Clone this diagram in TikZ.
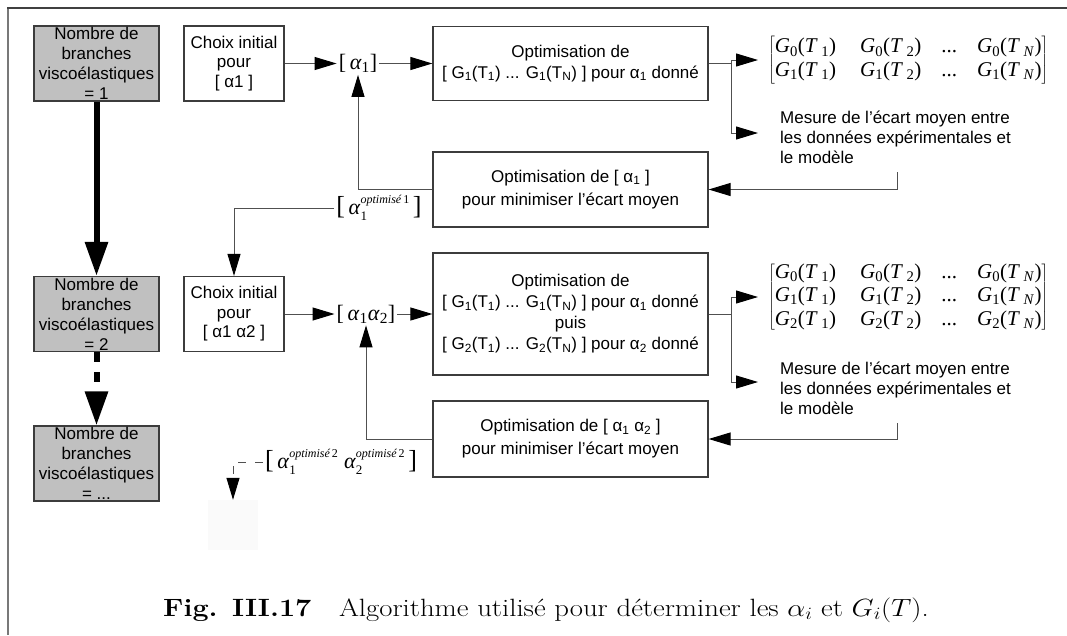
\documentclass[tikz,border=0pt]{standalone}
\usepackage{graphicx}
\usepackage{fontspec}
\setsansfont{Liberation Sans}
\newfontfamily\timesfont{Liberation Serif}
\usepackage{tikz}
\usetikzlibrary{positioning, arrows.meta}

\definecolor{boxgray}{RGB}{192,192,192}
\definecolor{edgegray}{RGB}{60,60,60}
\definecolor{linegray}{RGB}{80,80,80}
\definecolor{framegray}{RGB}{120,120,120}

\newcommand{\GT}[2]{\textit{G}\textsubscript{#1}(\textit{T}\,\textsubscript{#2})}
\newcommand{\al}[1]{α\textsubscript{#1}}
\newcommand{\aopt}[2]{\textit{α}\rlap{\raisebox{-6pt}{\fontsize{13}{13}\selectfont #1}}\raisebox{11pt}{\fontsize{12}{12}\selectfont\itshape optimisé\,\upshape #2}}
\newcommand{\bigbr}[1]{{\fontsize{26}{26}\selectfont #1}}

\begin{document}
\begin{tikzpicture}[x=1pt, y=-1pt]
    % Define styles
    \tikzstyle{branchbox} = [rectangle, minimum width=125pt, minimum height=75pt, inner xsep=0pt, inner ysep=-2pt, align=center, draw=edgegray, line width=1.2pt, fill=boxgray, font=\sffamily\fontsize{17}{20}\selectfont]
    \tikzstyle{choixbox} = [rectangle, minimum width=100pt, minimum height=75pt, inner sep=0pt, align=center, draw=edgegray, line width=1.2pt, fill=white, font=\sffamily\fontsize{17}{19.5}\selectfont]
    \tikzstyle{optbox} = [rectangle, minimum width=275pt, minimum height=74pt, inner sep=0pt, align=center, draw=edgegray, line width=1.2pt, fill=white, font=\sffamily\fontsize{17}{21}\selectfont]
    \tikzstyle{vect} = [inner sep=2pt, font=\timesfont\fontsize{22}{24}\selectfont]
    \tikzstyle{matrice} = [anchor=west, inner sep=0pt, font=\timesfont\fontsize{21}{23.5}\selectfont]
    \tikzstyle{note} = [anchor=west, inner sep=2pt, align=left, font=\sffamily\fontsize{17}{20}\selectfont]
    \tikzstyle{line} = [line width=1pt, draw=linegray]
    \tikzstyle{arrow} = [line, -{Triangle[length=22pt, width=13pt, color=black]}]
    \tikzstyle{dasharrow} = [arrow, dash pattern=on 8pt off 9pt]
    \tikzstyle{bigarrow} = [line width=6pt, -{Triangle[length=34pt, width=22pt]}]
    \tikzstyle{bigdash} = [bigarrow, dash pattern=on 10pt off 10pt]

    \useasboundingbox (0,0) rectangle (1067,635);

    % Frame
    \draw [line width=2pt, draw=framegray] (8,8) -- (8,635);
    \draw [line width=1.5pt, draw=black!75] (7,8) -- (1067,8);

    % Nodes
    \node (nb1) [branchbox] at (96.5,63.5) {Nombre de\\branches\\viscoélastiques\\= 1};
    \node (nb2) [branchbox, below of=nb1, node distance=250.5pt] {Nombre de\\branches\\viscoélastiques\\= 2};
    \node (nb3) [branchbox, below of=nb2, node distance=149.5pt] {Nombre de\\branches\\viscoélastiques\\= ...};

    \node (choix1) [choixbox, right of=nb1, node distance=137.5pt] {Choix initial\\pour\\{[} α1 ]};
    \node (choix2) [choixbox, right of=nb2, node distance=137.5pt] {Choix initial\\pour\\{[} α1 α2 ]};

    \node (a1) [vect] at (358,63.5) {[\,\textit{α}\textsubscript{1}]};
    \node (a12) [vect] at (366,314) {[\,\textit{α}\textsubscript{1}\textit{α}\textsubscript{2}]};

    \node (opt1) [optbox] at (570.5,63.5) {Optimisation de\\{[} G\textsubscript{1}(T\textsubscript{1}) ... G\textsubscript{1}(T\textsubscript{N}) ] pour \al{1} donné};
    \node (opt2) [optbox, below of=opt1, node distance=250.5pt, minimum height=122pt] {Optimisation de\\{[} G\textsubscript{1}(T\textsubscript{1}) ... G\textsubscript{1}(T\textsubscript{N}) ] pour \al{1} donné\\puis\\{[} G\textsubscript{2}(T\textsubscript{1}) ... G\textsubscript{2}(T\textsubscript{N}) ] pour \al{2} donné};

    \node (oa1) [optbox, font=\sffamily\fontsize{17}{23}\selectfont, minimum height=75pt] at (570.5,189.5) {Optimisation de [ \al{1} ]\\pour minimiser l'écart moyen};
    \node (oa2) [optbox, font=\sffamily\fontsize{17}{23}\selectfont, minimum height=76pt, below of=oa1, node distance=249.5pt] {Optimisation de [ \al{1} \al{2} ]\\pour minimiser l'écart moyen};

    \node (mat1) [matrice] at (768,60) {$\left[\begin{tabular}{@{}l@{\hspace{24pt}}l@{\hspace{20pt}}c@{\hspace{20pt}}l@{}}
        \GT{0}{1} & \GT{0}{2} & ... & \GT{0}{\textit{N}}\\
        \GT{1}{1} & \GT{1}{2} & ... & \GT{1}{\textit{N}}
      \end{tabular}\right]$};
    \node (mat2) [matrice] at (768,297) {$\left[\begin{tabular}{@{}l@{\hspace{24pt}}l@{\hspace{20pt}}c@{\hspace{20pt}}l@{}}
        \GT{0}{1} & \GT{0}{2} & ... & \GT{0}{\textit{N}}\\
        \GT{1}{1} & \GT{1}{2} & ... & \GT{1}{\textit{N}}\\
        \GT{2}{1} & \GT{2}{2} & ... & \GT{2}{\textit{N}}
      \end{tabular}\right]$};

    \node (mes1) [note] at (778,137) {Mesure de l'écart moyen entre\\les données expérimentales et\\le modèle};
    \node (mes2) [note] at (778,388) {Mesure de l'écart moyen entre\\les données expérimentales et\\le modèle};

    \node (ao1) [vect] at (379,208) {\bigbr{[}\,\aopt{1}{1}\,\bigbr{]}};
    \node (ao2) [vect] at (341,462) {\bigbr{[}\,\aopt{1}{2}\;\aopt{2}{2}\,\bigbr{]}};
    \node (next) [rectangle, minimum width=50pt, minimum height=50pt, fill=black!2] at (233,525) {};

    \node (caption) [anchor=base, font=\fontsize{25}{30}\selectfont] at (546,616) {\scalebox{1.15}[1]{\textbf{Fig. III.17}\hspace{24pt}Algorithme utilisé pour déterminer les $\alpha_i$ et $G_i(T)$.}};

    \coordinate (br1) at (731,63.5);
    \coordinate (br2) at (731,314);
    \coordinate (m1) at (897,172);
    \coordinate (m2) at (897,423);

    % Arrows
    \draw [bigarrow] (nb1) -- (nb2);
    \draw [bigdash] (nb2) -- (nb3);

    \draw [arrow] (choix1) -- (a1);
    \draw [arrow] (a1) -- (opt1);
    \draw [line] (opt1.east) -- (br1);
    \draw [arrow, shorten >=10pt] (br1) |- (mat1.west);
    \draw [arrow, shorten >=20pt] (br1) |- ([yshift=4pt]mes1.west);
    \draw [arrow] (m1) |- (oa1.east);
    \draw [arrow] (oa1.west) -| (a1.south);
    \draw [arrow] (ao1.west) -| (choix2.north);

    \draw [arrow] (choix2) -- (a12);
    \draw [arrow] (a12) -- (opt2);
    \draw [line] (opt2.east) -- (br2);
    \draw [arrow, shorten >=10pt] (br2) |- (mat2.west);
    \draw [arrow, shorten >=20pt] (br2) |- ([yshift=6pt]mes2.west);
    \draw [arrow] (m2) |- (oa2.east);
    \draw [arrow] (oa2.west) -| (a12.south);
    \draw [dasharrow] (ao2.west) -| (next.north);
\end{tikzpicture}
\end{document}
